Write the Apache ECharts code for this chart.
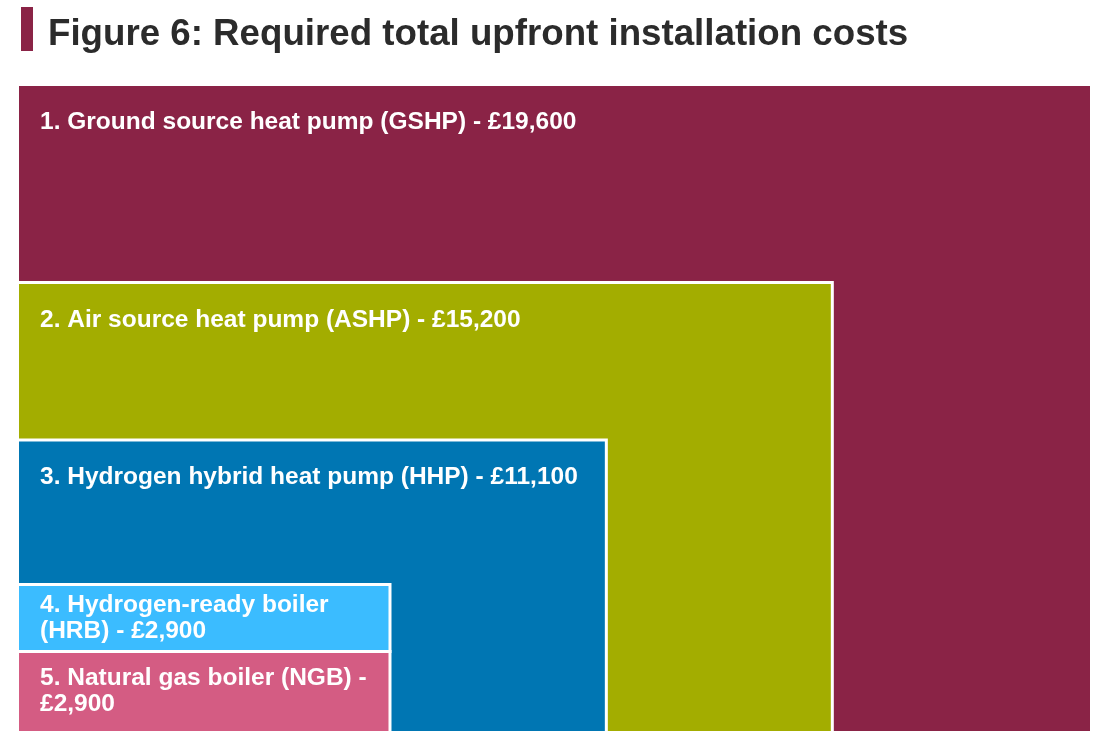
<!DOCTYPE html>
<html>
<head>
<meta charset="utf-8">
<script src="https://cdn.jsdelivr.net/npm/echarts@6/dist/echarts.min.js"></script>
<style>
  html, body { margin: 0; padding: 0; background: #fff; }
  #main { width: 1110px; height: 744px; }
</style>
</head>
<body>
<div id="main"></div>
<script>
// data
var systems = [
    'Ground source heat pump (GSHP)',
    'Air source heat pump (ASHP)',
    'Hydrogen hybrid heat pump (HHP)',
    'Hydrogen-ready boiler (HRB)',
    'Natural gas boiler (NGB)'
];
var costs = [19600, 15200, 11100, 2900, 2900];
// extent of each box on the (hidden) 0-100 layout axes
var boxRight = [100, 75.8, 54.7, 34.5, 34.5];
var boxTop = [100, 69.3, 44.9, 22.5, 12.1];
var boxBottom = [0, 0, 0, 12.1, 0];
var colors = ['#8a2346', '#a3ad00', '#0076b3', '#3bbcff', '#d45c83'];

var FONT = 'bold 24.5px "Liberation Sans", Arial, sans-serif';
var ctx = document.createElement('canvas').getContext('2d');

// simple word wrap so lines break on spaces
function wrap(text, maxW) {
    ctx.font = FONT;
    var words = text.split(' ');
    var lines = [];
    var cur = '';
    words.forEach(function (wd) {
        var test = cur ? cur + ' ' + wd : wd;
        if (cur && ctx.measureText(test).width > maxW) {
            lines.push(cur);
            cur = wd;
        } else {
            cur = test;
        }
    });
    if (cur) lines.push(cur);
    return lines.join('\n');
}

var myChart = echarts.init(document.getElementById('main'));

var seriesData = systems.map(function (name, i) {
    return {
        name: name,
        value: [boxRight[i], boxTop[i], boxBottom[i], costs[i]],
        itemStyle: { color: colors[i] }
    };
});

function fmt(v) {
    return '£' + v.toString().replace(/\B(?=(\d{3})+(?!\d))/g, ',');
}

var option = {
    animation: false,
    title: {
        text: 'Figure 6: Required total upfront installation costs',
        left: 43,
        top: 11,
        textStyle: {
            fontFamily: '"Liberation Sans", Arial, sans-serif',
            fontSize: 36.7,
            fontWeight: 'bold',
            color: '#2b2b2b'
        }
    },
    graphic: [{
        type: 'rect',
        shape: { x: 21, y: 7, width: 12, height: 44 },
        style: { fill: '#8a2346' }
    }],
    grid: { left: 19, right: 20, top: 86, bottom: 13 },
    xAxis: { type: 'value', min: 0, max: 100, show: false },
    yAxis: { type: 'value', min: 0, max: 100, show: false },
    series: [{
        type: 'custom',
        data: seriesData,
        renderItem: function (params, api) {
            var i = params.dataIndex;
            var p0 = api.coord([0, api.value(2)]);
            var p1 = api.coord([api.value(0), api.value(1)]);
            var w = p1[0] - p0[0];
            var h = p0[1] - p1[1];
            var label = (i + 1) + '. ' + systems[i] + ' - ' + fmt(api.value(3));
            var small = h < 100;
            return {
                type: 'group',
                children: [{
                    type: 'rect',
                    shape: { x: p0[0], y: p1[1] - 3, width: w + 3, height: h + 3 },
                    style: { fill: '#ffffff' }
                }, {
                    type: 'rect',
                    shape: { x: p0[0], y: p1[1], width: w, height: h },
                    style: { fill: api.visual('color') }
                }, {
                    type: 'text',
                    style: {
                        text: wrap(label, w - 36),
                        x: p0[0] + 21,
                        y: small ? p1[1] + h / 2 - 1 : p1[1] + 23,
                        lineHeight: 26,
                        fill: '#ffffff',
                        font: FONT,
                        verticalAlign: small ? 'middle' : 'top'
                    }
                }]
            };
        }
    }]
};

myChart.setOption(option);
</script>
</body>
</html>
